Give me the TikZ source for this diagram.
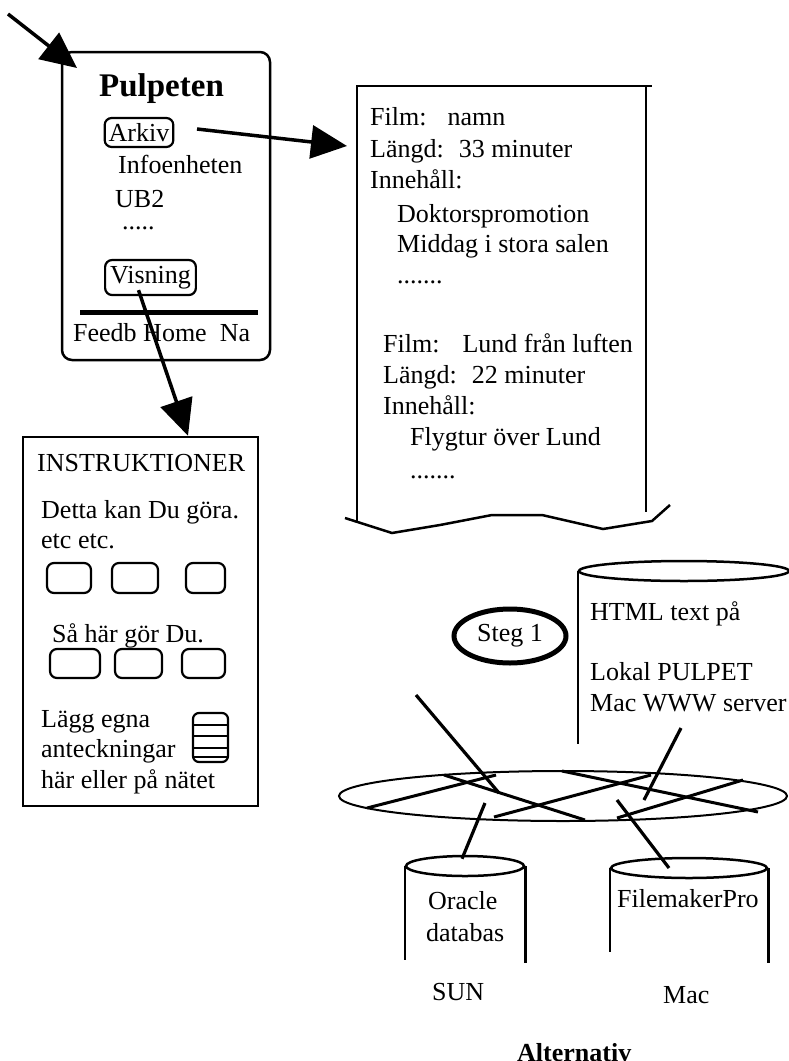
\documentclass[tikz,border=0pt]{standalone}
\usepackage{fontspec}
\setmainfont{Liberation Serif}
\usetikzlibrary{positioning, arrows.meta, shapes.geometric}

\begin{document}
\begin{tikzpicture}[x=1pt, y=-1pt]
\tikzset{
txt/.style={font=\fontsize{26}{30}\selectfont, inner sep=0pt, anchor=base west}, % one line of text, placed at its baseline
btn/.style={draw, rounded corners=7pt, line width=2.2pt, inner ysep=0pt, font=\fontsize{26}{30}\selectfont},
boxline/.style={draw, line width=2.5pt, inner sep=0pt},
wire/.style={line width=3.2pt},
netline/.style={line width=3pt},
bigtip/.style={-{Triangle[length=36pt,width=33pt]}, line width=3.5pt}, % the fat arrow heads
disk/.style={ellipse, draw, line width=2.5pt, inner sep=0pt, minimum height=20pt},
}
\useasboundingbox (0,0) rectangle (789,1061);

% the Pulpeten screen
\node[boxline, rounded corners=10pt, minimum width=208pt, minimum height=308pt] (pulpet) at (166,206) {};
\node[txt, font=\bfseries\fontsize{33}{36}\selectfont] (title) at (99,96) {Pulpeten};
\node[btn, inner xsep=4pt, minimum height=29pt] (arkiv) at (139,132.5) {Arkiv\hspace{13pt}};
\node[txt] (infoenh) at (118,173) {Infoenheten};
\node[txt] (ub2) at (115,207) {UB2};
\node[txt] (moreA) at (122,229) {.....};
\node[btn, inner xsep=5pt, minimum height=35pt] (visning) at (150.5,277.5) {Visning\hspace{10pt}};
\draw[line width=5pt] (80,312) -- (258,312);
\node[txt] (navbar) at (73,341) {Feedb Home\ \ Na};

\coordinate (entry) at (8,14);
\coordinate (entrytip) at (77,68);
\draw[bigtip] (entry) -- (entrytip);

% film list page
\draw[line width=2.5pt] (357,522) -- (357,86) -- (652,86);
\draw[line width=2.5pt] (646,86) -- (646,512);
\draw[line width=2.5pt] (345,518) -- (392,533) -- (440,525) -- (492,515) -- (542,515) -- (603,529) -- (652,521) -- (670,505);
\node[txt] (filmA) at (370,125) {Film:\hspace{21pt}namn};
\node[txt] (lenA) at (370,157) {Längd:\hspace{15pt}33 minuter};
\node[txt] (contA) at (370,188) {Innehåll:};
\node[txt] (itemA1) at (397,222) {Doktorspromotion};
\node[txt] (itemA2) at (397,252) {Middag i stora salen};
\node[txt] (itemA3) at (397,283) {.......};
\node[txt] (filmB) at (383,352) {Film:\hspace{23pt}Lund från luften};
\node[txt] (lenB) at (383,383) {Längd:\hspace{15pt}22 minuter};
\node[txt] (contB) at (383,414) {Innehåll:};
\node[txt] (itemB1) at (410,445) {Flygtur över Lund};
\node[txt] (itemB2) at (410,478) {.......};

\coordinate (arkivout) at (197,129);
\coordinate (filmin) at (347,146);
\draw[bigtip] (arkivout) -- (filmin);

% instructions page
\node[boxline, minimum width=235pt, minimum height=369pt] (instr) at (140.5,621.5) {};
\draw[bigtip] ([xshift=-12pt,yshift=6pt]visning.south) -- ([xshift=47.5pt]instr.north);
\node[txt] (instrhead) at (37,471) {INSTRUKTIONER};
\node[txt] (canA) at (41,518) {Detta kan Du göra.};
\node[txt] (canB) at (41,548) {etc etc.};
\foreach \cx/\w [count=\i] in {69/44, 135/46, 205.5/39}
  \node[btn, minimum width=\w pt, minimum height=30pt] (doA\i) at (\cx,578) {};
\node[txt] (howA) at (52,642) {Så här gör Du.};
\foreach \cx/\w [count=\i] in {75/50, 138.5/47, 203.5/43}
  \node[btn, minimum width=\w pt, minimum height=29pt] (howB\i) at (\cx,663.5) {};
\node[txt] (noteA) at (41,727) {Lägg egna};
\node[txt] (noteB) at (41,757) {anteckningar};
\node[txt] (noteC) at (41,788) {här eller på nätet};
\node[btn, rounded corners=6pt, minimum width=35pt, minimum height=49pt] (notes) at (210.5,737.5) {};
\foreach \yy in {725,736,748,757}
  \draw[line width=2pt] (193,\yy) -- (228,\yy);

% servers
\node[ellipse, draw, line width=5pt, minimum width=112pt, minimum height=54pt, inner sep=0pt, font=\fontsize{26}{30}\selectfont] (steg) at (510,636) {Steg 1};

\node[disk, minimum width=210pt] (websrv) at (684,571) {};
\draw[line width=2.5pt] (websrv.west) -- ++(0,173);
\node[txt] (webA) at (590,620) {HTML text på};
\node[txt] (webB) at (590,680) {Lokal PULPET};
\node[txt] (webC) at (590,711) {Mac WWW server};

\node[ellipse, draw, line width=2pt, minimum width=448pt, minimum height=50pt, inner sep=0pt] (lan) at (563,796) {};
\draw[netline] (367,808) -- (496,775);
\draw[netline] (444,775) -- (585,820);
\draw[netline] (494,817) -- (651,775);
\draw[netline] (562,771) -- (758,812);
\draw[netline] (617,818) -- (743,780);

\node[disk, minimum width=118pt] (oracle) at (465,866) {};
\draw[line width=2.5pt] (oracle.west) -- ++(0,94);
\draw[line width=2.5pt] (oracle.east) -- ++(0,97);
\node[txt] (oraA) at (428,909) {Oracle};
\node[txt] (oraB) at (426,941) {databas};
\node[txt] (sun) at (432,1000) {SUN};

\node[disk, minimum width=156pt] (filemaker) at (689,868) {};
\draw[line width=2.5pt] (filemaker.west) -- ++(0,84);
\draw[line width=2.5pt] (filemaker.east) -- ++(0,95);
\node[txt] (fmp) at (617,907) {FilemakerPro};
\node[txt] (mac) at (663,1003) {Mac};

\node[txt, font=\bfseries\fontsize{26}{30}\selectfont] (alt) at (517,1061) {Alternativ};

% links to the network
\coordinate (webfeed) at (416,695);
\coordinate (lanA) at (499,793);
\coordinate (lanB) at (485,803);
\coordinate (lanC) at (644,800);
\coordinate (lanD) at (617,800);
\coordinate (webdrop) at (681,728);
\draw[wire] (webfeed) -- (lanA);
\draw[wire] (lanB) -- ([xshift=-3pt,yshift=-4pt]oracle.north);
\draw[wire] (webdrop) -- (lanC);
\draw[wire] (lanD) -- ([xshift=-20pt]filemaker.center);
\end{tikzpicture}
\end{document}
